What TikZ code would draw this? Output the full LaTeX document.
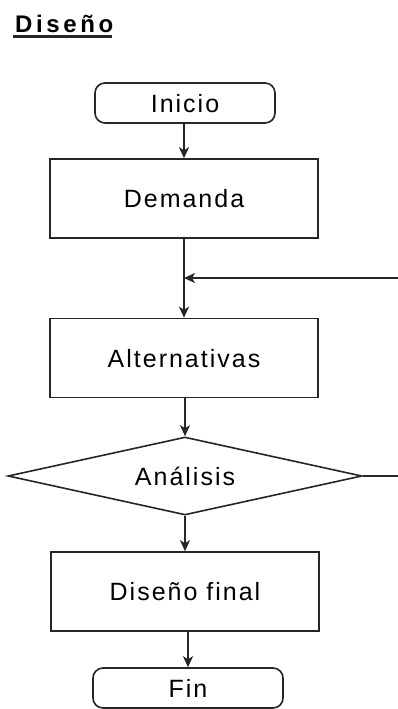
\documentclass[tikz,border=0pt]{standalone}
\usepackage{fontspec}
\setmainfont{Liberation Sans}
\newfontfamily\dfont[LetterSpace=8]{Liberation Sans}
\newfontfamily\tfont[LetterSpace=15]{Liberation Sans}
\usetikzlibrary{shapes.geometric,arrows.meta}
\begin{document}
\begin{tikzpicture}[x=1pt,y=-1pt,
  line/.style={draw=black!85, line width=1.6pt},
  arr/.style={line, -{Stealth[length=11pt,width=10pt,inset=3pt]}},
  txt/.style={font=\dfont\fontsize{25}{25}\selectfont, text height=18pt, text depth=0pt},
  box/.style={line, txt, rectangle, minimum width=268pt, minimum height=79pt, inner sep=0pt},
  term/.style={line, txt, rectangle, rounded corners=10pt, minimum height=40pt, inner sep=0pt},
  dec/.style={line, txt, diamond, minimum width=354pt, minimum height=78pt, inner sep=0pt, aspect=4.5},
]
\useasboundingbox (0,0) rectangle (398,709);
\fill[white] (0,0) rectangle (398,709);
\node[anchor=base west, inner sep=0pt, font=\tfont\bfseries\fontsize{24}{24}\selectfont] (tit) at (15,33) {Diseño};
\draw[line width=2.5pt, black!85] ([yshift=-3.5pt,xshift=-2pt]tit.base west) -- ([yshift=-3.5pt,xshift=-1pt]tit.base east);

\node[term, minimum width=180pt] (ini) at (185,103) {Inicio};
\node[box] (dem) at (184,198.5) {Demanda};
\node[box] (alt) at (184,358) {Alternativas};
\node[dec] (ana) at (185,476) {Análisis};
\node[box] (dis) at (185,591.5) {Diseño final};
\node[term, minimum width=190pt] (fin) at (188,688) {Fin};

\coordinate (fb1) at (400,278);
\coordinate (fb2) at (400,476);

\draw[arr] (ini.south -| dem.north) -- (dem.north);
\draw[arr] (dem.south) -- (alt.north);
\draw[arr] (fb1) -- (fb1 -| dem.south);
\draw[arr] (alt.south -| ana.north) -- (ana.north);
\draw[line] (ana.east) -- (fb2);
\draw[arr] (ana.south) -- (dis.north);
\draw[arr] (dis.south -| fin.north) -- (fin.north);
\end{tikzpicture}
\end{document}
